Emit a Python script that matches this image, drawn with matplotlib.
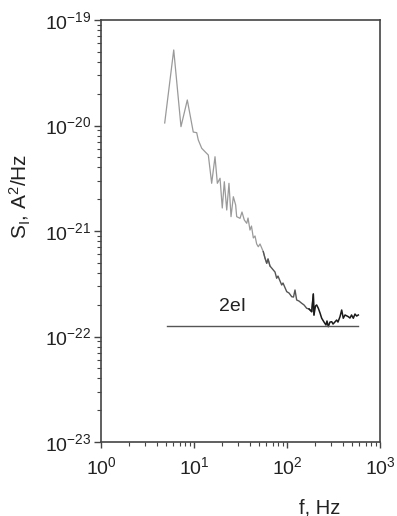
import numpy as np
import matplotlib
matplotlib.use("Agg")
import matplotlib.pyplot as plt
from matplotlib.ticker import FixedLocator, LogLocator, NullFormatter

plt.rcParams['font.family'] = ['Liberation Sans', 'DejaVu Sans']
plt.rcParams['mathtext.fontset'] = 'custom'
plt.rcParams['mathtext.rm'] = 'Liberation Sans'
plt.rcParams['mathtext.it'] = 'Liberation Sans:italic'
plt.rcParams['mathtext.bf'] = 'Liberation Sans:bold'

# log10 of frequency (Hz) and log10 of noise spectral density (A^2/Hz)
log_f = [0.685, 0.782, 0.860, 0.928, 0.992, 1.029, 1.046, 1.083, 1.118, 1.154,
         1.190, 1.226, 1.251, 1.280, 1.304, 1.326, 1.352, 1.376, 1.398, 1.423,
         1.448, 1.459, 1.495, 1.516, 1.541, 1.567, 1.581, 1.602, 1.618, 1.638,
         1.656, 1.674, 1.691, 1.710, 1.745, 1.763, 1.782, 1.796, 1.817, 1.853,
         1.871, 1.889, 1.903, 1.943, 1.957, 1.997, 2.022, 2.051, 2.070, 2.086,
         2.104, 2.129, 2.158, 2.183, 2.212, 2.237, 2.266, 2.283, 2.290, 2.306,
         2.319, 2.337, 2.355, 2.373, 2.398, 2.419, 2.430, 2.444, 2.462, 2.481,
         2.495, 2.534, 2.548, 2.570, 2.588, 2.605, 2.624, 2.659, 2.677, 2.694,
         2.713, 2.731, 2.749, 2.767]
log_S = [-19.976, -19.284, -20.011, -19.758, -20.062, -20.068, -20.137, -20.216, -20.248, -20.280,
         -20.548, -20.296, -20.548, -20.500, -20.782, -20.533, -20.801, -20.548, -20.864, -20.675,
         -20.754, -20.864, -20.880, -20.820, -20.896, -20.927, -20.877, -20.991, -20.953, -21.066,
         -21.047, -21.123, -21.149, -21.123, -21.196, -21.256, -21.306, -21.265, -21.332, -21.370,
         -21.389, -21.448, -21.427, -21.512, -21.493, -21.575, -21.588, -21.623, -21.626, -21.559,
         -21.654, -21.664, -21.685, -21.701, -21.733, -21.739, -21.765, -21.597, -21.796, -21.711,
         -21.701, -21.733, -21.777, -21.827, -21.863, -21.891, -21.853, -21.907, -21.863, -21.860,
         -21.882, -21.844, -21.863, -21.812, -21.749, -21.827, -21.796, -21.812, -21.825, -21.796,
         -21.827, -21.787, -21.806, -21.796]

shot_level = 1.245e-22          # 2eI level, A^2/Hz
shot_f = [5.09, 580.0]          # frequency span of the 2eI line
label_2eI = "2eI"

x_major = [1, 10, 100, 1000]
y_major = [1e-23, 1e-22, 1e-21, 1e-20, 1e-19]

f = 10.0 ** np.array(log_f)
S = 10.0 ** np.array(log_S)

fig = plt.figure(figsize=(3.97, 5.16), dpi=100)
ax = fig.add_axes([101/397, 1 - 442/516, 279/397, 422/516])

# curve: lighter at low frequency, darker where the trace is dense
m1 = f <= 70
m2 = (f >= 55) & (f <= 200)
m3 = f >= 170
ax.plot(f[m1], S[m1], color='#9a9a9a', lw=0.9)
ax.plot(f[m2], S[m2], color='#555555', lw=1.0)
ax.plot(f[m3], S[m3], color='#1a1a1a', lw=1.1)

ax.plot(shot_f, [shot_level, shot_level], color='#555555', lw=1.0)
ax.text(26.3, 10 ** -21.717, label_2eI, fontsize=14, ha='center', va='center', color='#222222')

ax.set_xscale('log')
ax.set_yscale('log')
ax.set_xlim(1, 1000)
ax.set_ylim(1e-23, 1e-19)
ax.xaxis.set_major_locator(FixedLocator(x_major))
ax.yaxis.set_major_locator(FixedLocator(y_major))
ax.xaxis.set_minor_locator(LogLocator(base=10, subs=np.arange(2, 10)))
ax.yaxis.set_minor_locator(LogLocator(base=10, subs=np.arange(2, 10)))
ax.xaxis.set_minor_formatter(NullFormatter())
ax.yaxis.set_minor_formatter(NullFormatter())

for sp in ax.spines.values():
    sp.set_color('#444444')
    sp.set_linewidth(1.2)

ax.tick_params(axis='both', which='both', direction='out', color='#444444',
               labelcolor='#222222', labelsize=14, top=False, right=False)
ax.tick_params(axis='y', which='major', length=5, width=1.0, pad=2)
ax.tick_params(axis='y', which='minor', length=3, width=0.8)
ax.tick_params(axis='x', which='major', length=4, width=1.0, pad=6)
ax.tick_params(axis='x', which='minor', length=3, width=0.8)

ax.set_ylabel(r"S$_\mathregular{I}$, A$^\mathregular{2}$/Hz", fontsize=15, color='#222222')
ax.yaxis.set_label_coords(-0.244, 0.583)
ax.set_xlabel("f, Hz", fontsize=14.5, color='#222222')
ax.xaxis.set_label_coords(0.785, -0.133)

fig.savefig("out.png", dpi=100)
